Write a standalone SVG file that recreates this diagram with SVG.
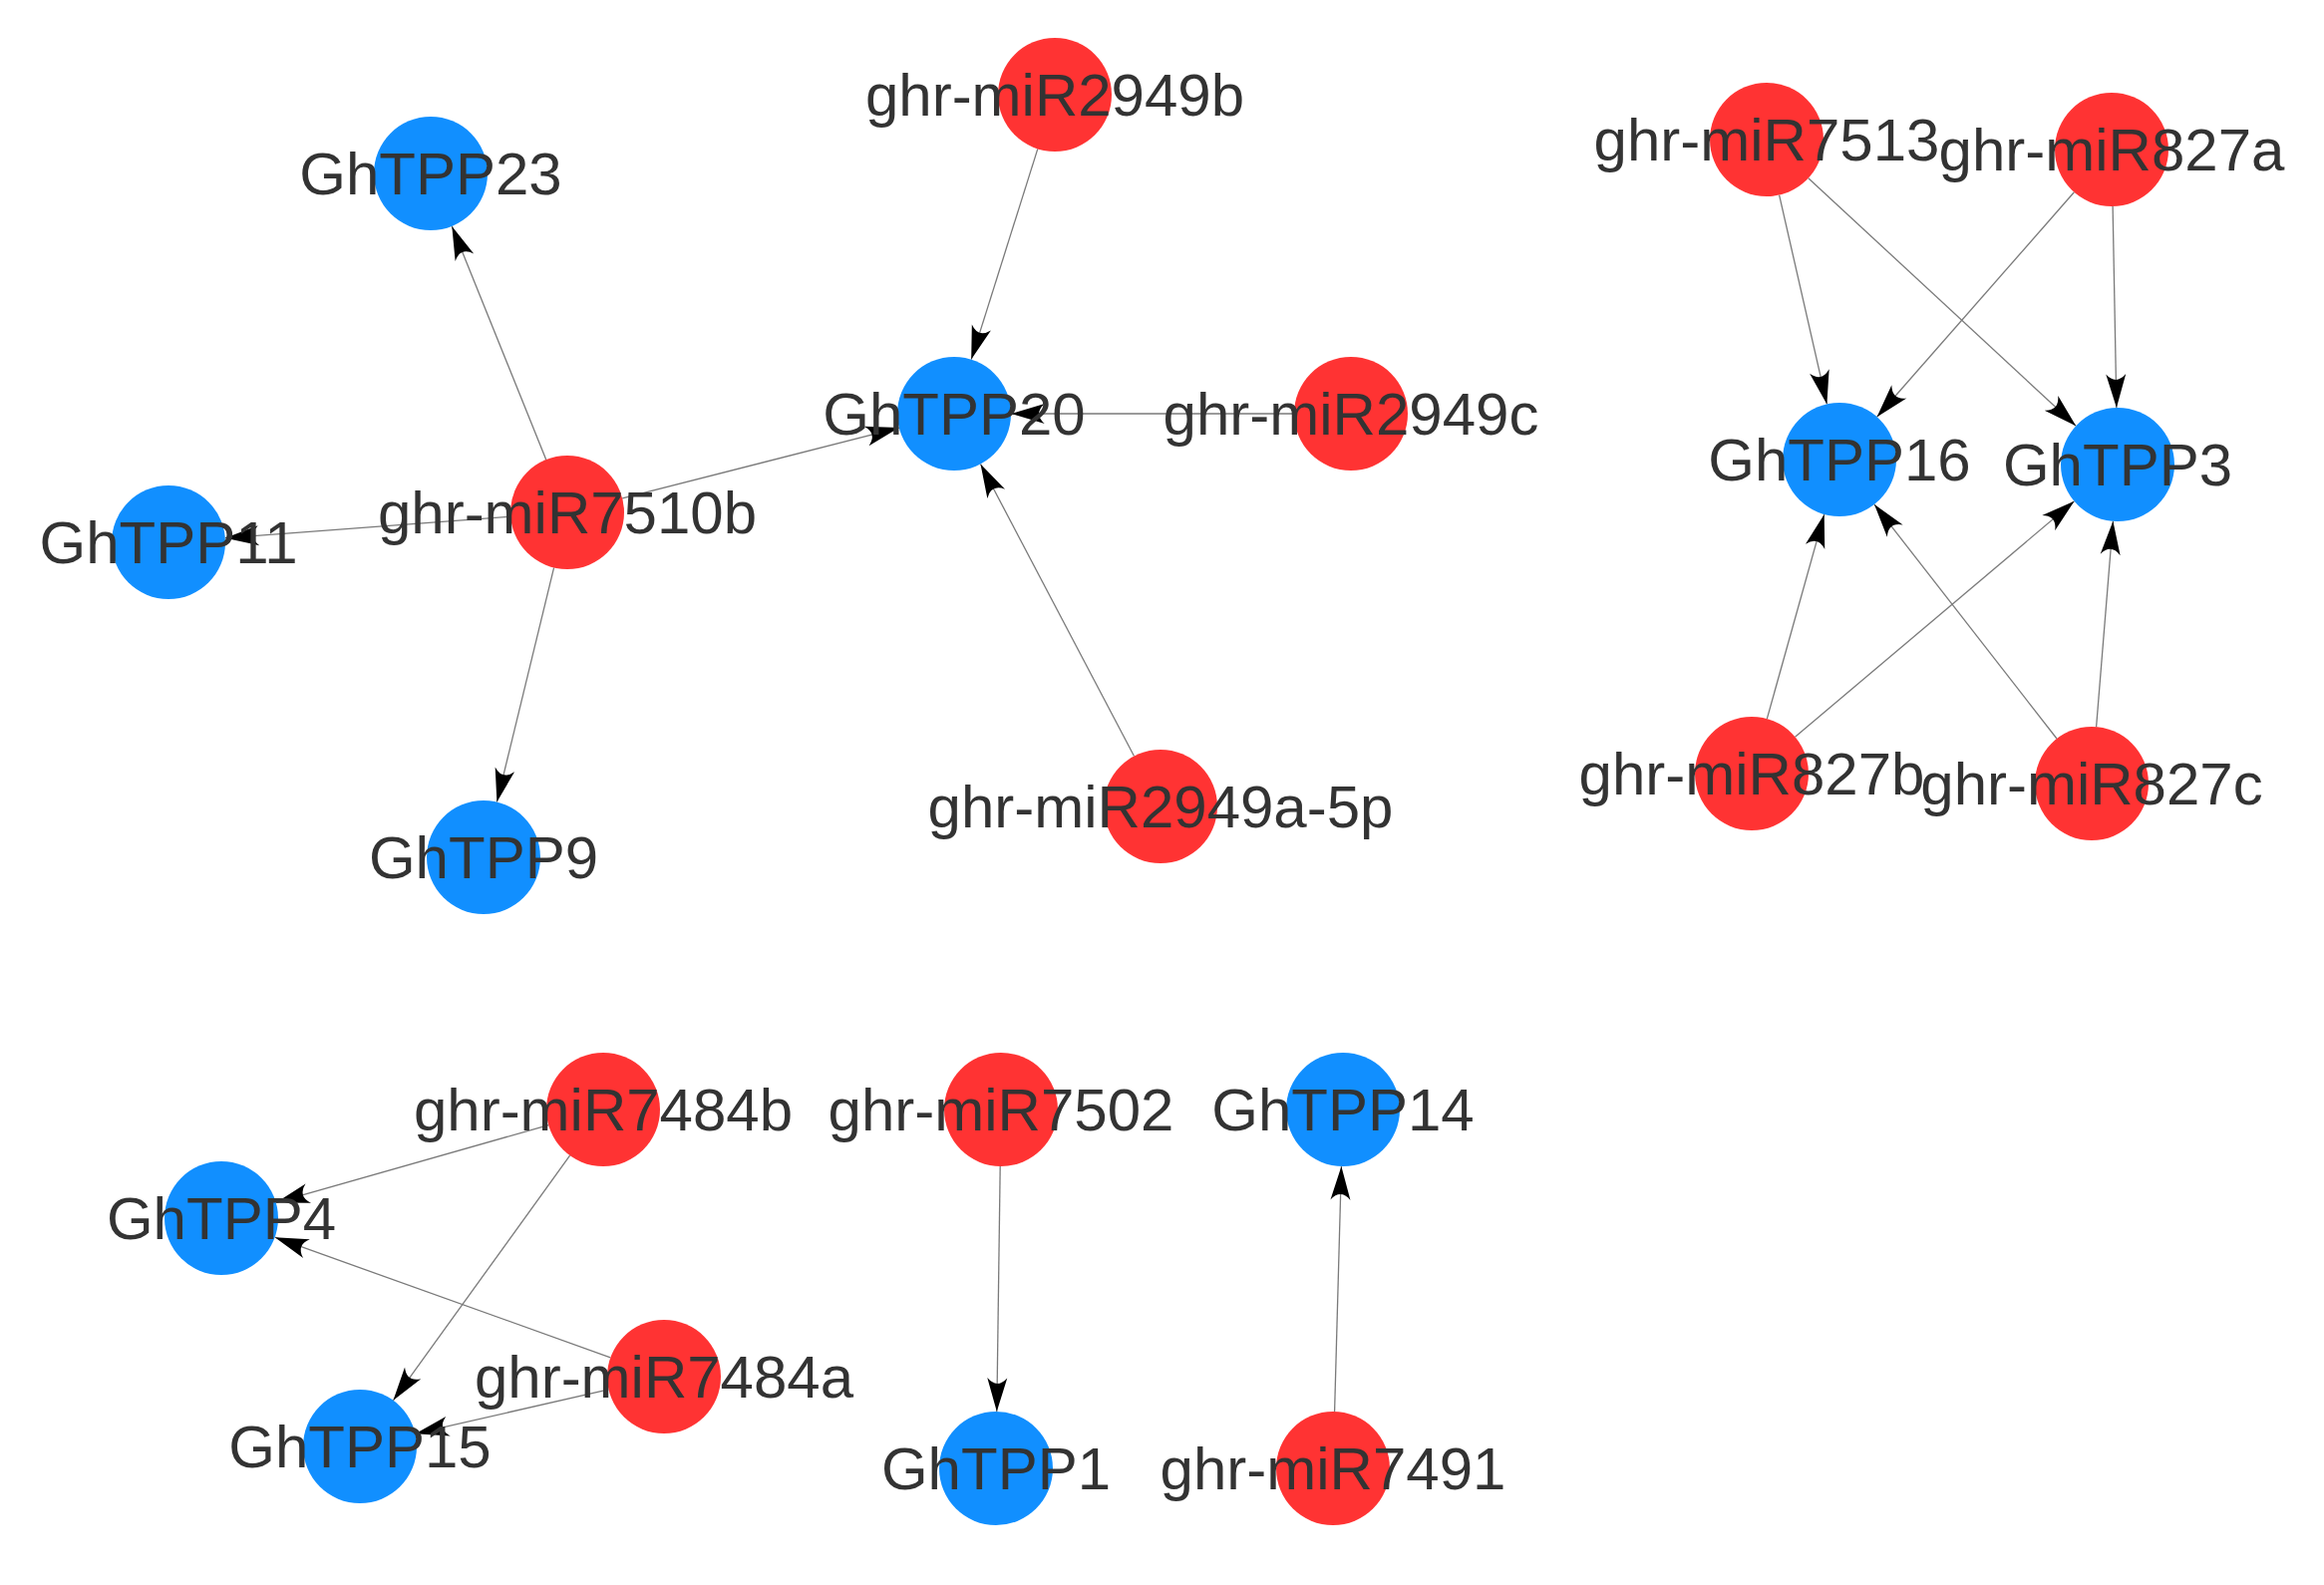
<svg xmlns="http://www.w3.org/2000/svg" width="2331" height="1590" viewBox="0 0 2331 1590">
<style>
.mi{fill:#FF3333}
.tp{fill:#118FFF}
.lb{font-family:"Liberation Sans",Arial,sans-serif;font-size:60px;fill:#333333;text-anchor:middle}
.e{stroke:#7a7a7a;stroke-width:1.3;fill:none;marker-end:url(#ah)}
</style>
<defs>
<marker id="ah" markerUnits="userSpaceOnUse" markerWidth="40" markerHeight="40" viewBox="-30 -10 32 20" refX="0" refY="0" orient="auto">
<path d="M0,0 L-27,-8 Q-18,0 -27,8 Z" fill="#000"/>
</marker>
</defs>
<rect width="2331" height="1590" fill="#ffffff"/>
<g id="connectors">
<line class="e" x1="547.7" y1="461.1" x2="453.3" y2="226.9"/>
<line class="e" x1="512.2" y1="518.3" x2="225.8" y2="539.7"/>
<line class="e" x1="555.6" y1="569.4" x2="498.4" y2="804.6"/>
<line class="e" x1="624.2" y1="499.9" x2="901.8" y2="429.1"/>
<line class="e" x1="1040.8" y1="149.4" x2="974.2" y2="360.6"/>
<line class="e" x1="1298" y1="415" x2="1014" y2="415"/>
<line class="e" x1="1137.5" y1="758.5" x2="983.5" y2="465.5"/>
<line class="e" x1="1784.6" y1="195.6" x2="1832.4" y2="405.4"/>
<line class="e" x1="1813.8" y1="178.7" x2="2082.2" y2="427.3"/>
<line class="e" x1="2080.4" y1="192.8" x2="1882.6" y2="418.2"/>
<line class="e" x1="2119.1" y1="207" x2="2122.9" y2="409"/>
<line class="e" x1="1772.3" y1="721.1" x2="1829.7" y2="515.9"/>
<line class="e" x1="1800.5" y1="739.2" x2="2080.5" y2="502.8"/>
<line class="e" x1="2063" y1="741" x2="1880" y2="506"/>
<line class="e" x1="2102.6" y1="729.2" x2="2119.4" y2="522.8"/>
<line class="e" x1="550.2" y1="1128.6" x2="276.8" y2="1206.4"/>
<line class="e" x1="571.6" y1="1159.2" x2="394.4" y2="1404.8"/>
<line class="e" x1="612.3" y1="1361.8" x2="275.7" y2="1241.2"/>
<line class="e" x1="610.4" y1="1393.8" x2="416.6" y2="1438.2"/>
<line class="e" x1="1003.2" y1="1170" x2="999.8" y2="1416"/>
<line class="e" x1="1338.6" y1="1416" x2="1345.4" y2="1170"/>
</g>
<g id="GhTPP23"><circle class="tp" cx="432" cy="174" r="57"/><text class="lb" x="432" y="195">GhTPP23</text></g>
<g id="GhTPP11"><circle class="tp" cx="169" cy="544" r="57"/><text class="lb" x="169" y="565">GhTPP11</text></g>
<g id="GhTPP9"><circle class="tp" cx="485" cy="860" r="57"/><text class="lb" x="485" y="881">GhTPP9</text></g>
<g id="ghr-miR7510b"><circle class="mi" cx="569" cy="514" r="57"/><text class="lb" x="569" y="535">ghr-miR7510b</text></g>
<g id="GhTPP20"><circle class="tp" cx="957" cy="415" r="57"/><text class="lb" x="957" y="436">GhTPP20</text></g>
<g id="ghr-miR2949b"><circle class="mi" cx="1058" cy="95" r="57"/><text class="lb" x="1058" y="116">ghr-miR2949b</text></g>
<g id="ghr-miR2949c"><circle class="mi" cx="1355" cy="415" r="57"/><text class="lb" x="1355" y="436">ghr-miR2949c</text></g>
<g id="ghr-miR2949a-5p"><circle class="mi" cx="1164" cy="809" r="57"/><text class="lb" x="1164" y="830">ghr-miR2949a-5p</text></g>
<g id="ghr-miR7513"><circle class="mi" cx="1772" cy="140" r="57"/><text class="lb" x="1772" y="161">ghr-miR7513</text></g>
<g id="ghr-miR827a"><circle class="mi" cx="2118" cy="150" r="57"/><text class="lb" x="2118" y="171">ghr-miR827a</text></g>
<g id="GhTPP16"><circle class="tp" cx="1845" cy="461" r="57"/><text class="lb" x="1845" y="482">GhTPP16</text></g>
<g id="GhTPP3"><circle class="tp" cx="2124" cy="466" r="57"/><text class="lb" x="2124" y="487">GhTPP3</text></g>
<g id="ghr-miR827b"><circle class="mi" cx="1757" cy="776" r="57"/><text class="lb" x="1757" y="797">ghr-miR827b</text></g>
<g id="ghr-miR827c"><circle class="mi" cx="2098" cy="786" r="57"/><text class="lb" x="2098" y="807">ghr-miR827c</text></g>
<g id="ghr-miR7484b"><circle class="mi" cx="605" cy="1113" r="57"/><text class="lb" x="605" y="1134">ghr-miR7484b</text></g>
<g id="GhTPP4"><circle class="tp" cx="222" cy="1222" r="57"/><text class="lb" x="222" y="1243">GhTPP4</text></g>
<g id="ghr-miR7484a"><circle class="mi" cx="666" cy="1381" r="57"/><text class="lb" x="666" y="1402">ghr-miR7484a</text></g>
<g id="GhTPP15"><circle class="tp" cx="361" cy="1451" r="57"/><text class="lb" x="361" y="1472">GhTPP15</text></g>
<g id="ghr-miR7502"><circle class="mi" cx="1004" cy="1113" r="57"/><text class="lb" x="1004" y="1134">ghr-miR7502</text></g>
<g id="GhTPP1"><circle class="tp" cx="999" cy="1473" r="57"/><text class="lb" x="999" y="1494">GhTPP1</text></g>
<g id="GhTPP14"><circle class="tp" cx="1347" cy="1113" r="57"/><text class="lb" x="1347" y="1134">GhTPP14</text></g>
<g id="ghr-miR7491"><circle class="mi" cx="1337" cy="1473" r="57"/><text class="lb" x="1337" y="1494">ghr-miR7491</text></g>
</svg>
